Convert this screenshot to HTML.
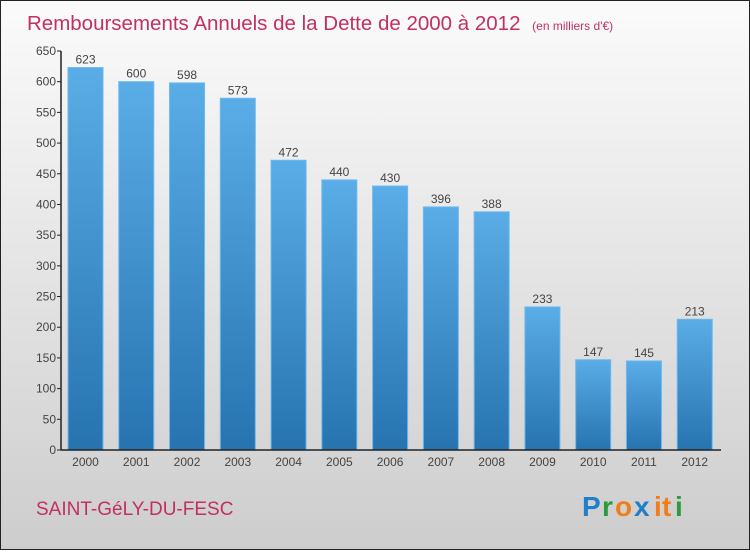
<!DOCTYPE html>
<html><head><meta charset="utf-8"><style>
body{margin:0;width:750px;height:550px;overflow:hidden;font-family:"Liberation Sans",sans-serif}
</style></head><body>
<svg width="750" height="550" xmlns="http://www.w3.org/2000/svg">
<defs>
<linearGradient id="bg" x1="0" y1="0" x2="0" y2="1"><stop offset="0" stop-color="#fbfbfb"/><stop offset="1" stop-color="#cdcdcd"/></linearGradient>
<linearGradient id="bar" x1="0" y1="0" x2="0" y2="1"><stop offset="0" stop-color="#5aade6"/><stop offset="1" stop-color="#2673b0"/></linearGradient>
</defs>
<rect x="0.5" y="0.5" width="749" height="549" fill="url(#bg)" stroke="#222"/>
<text x="27" y="30" font-size="20.5" fill="#c3305f">Remboursements Annuels de la Dette de 2000 à 2012 <tspan font-size="12" dx="6">(en milliers d'€)</tspan></text>
<g id="plot"></g>
<text x="36" y="515" font-size="19" fill="#c3305f">SAINT-GéLY-DU-FESC</text>
<g font-size="28" font-weight="bold">
<text x="582" y="516" fill="#1f7fc8">P</text><text x="602" y="516" fill="#2e9a3a">r</text><text x="615" y="516" fill="#f07d1a">o</text><text x="634" y="516" fill="#1f7fc8">x</text><text x="654" y="516" fill="#f07d1a">i</text><text x="662" y="516" fill="#f07d1a">t</text><text x="675" y="516" fill="#2e9a3a">i</text>
</g>
</svg>
<script>
const years=["2000","2001","2002","2003","2004","2005","2006","2007","2008","2009","2010","2011","2012"];
const values=[623,600,598,573,472,440,430,396,388,233,147,145,213];
const ticks=[0,50,100,150,200,250,300,350,400,450,500,550,600,650];
const NS="http://www.w3.org/2000/svg";
const g=document.getElementById('plot');
const x0=61,x1=721,yb=450,yt=51,max=650;
const band=(x1-x0)/years.length;
const y=v=>yb-(v/max)*(yb-yt);
function mk(t,a){const e=document.createElementNS(NS,t);for(const k in a)e.setAttribute(k,a[k]);g.appendChild(e);return e;}
ticks.forEach(t=>{
 const l=mk('line',{x1:x0-4,x2:x0,y1:y(t),y2:y(t),stroke:'#222'});
 
 
 const tx=mk('text',{x:x0-5,y:y(t)+4,'text-anchor':'end','font-size':12,fill:'#444'});
 tx.textContent=t;
 
 
});
years.forEach((yr,i)=>{
 const bx=x0+i*band+7,v=values[i];
 const r=mk('rect',{x:bx,y:y(v),width:35,height:yb-y(v),fill:'url(#bar)',stroke:'#6bb9ee','stroke-width':1});
 
 
 const vl=mk('text',{x:bx+17.5,y:y(v)-4,'text-anchor':'middle','font-size':12,fill:'#444'});
 vl.textContent=v;
 
 
 const xl=mk('text',{x:bx+17.5,y:466,'text-anchor':'middle','font-size':12,fill:'#444'});
 xl.textContent=yr;
 
 
});
const ya=mk('line',{x1:x0,x2:x0,y1:yt,y2:yb,stroke:'#222','stroke-width':1.5});


const xa=mk('line',{x1:x0,x2:x1,y1:yb,y2:yb,stroke:'#222','stroke-width':1.5});


</script>
</body></html>
